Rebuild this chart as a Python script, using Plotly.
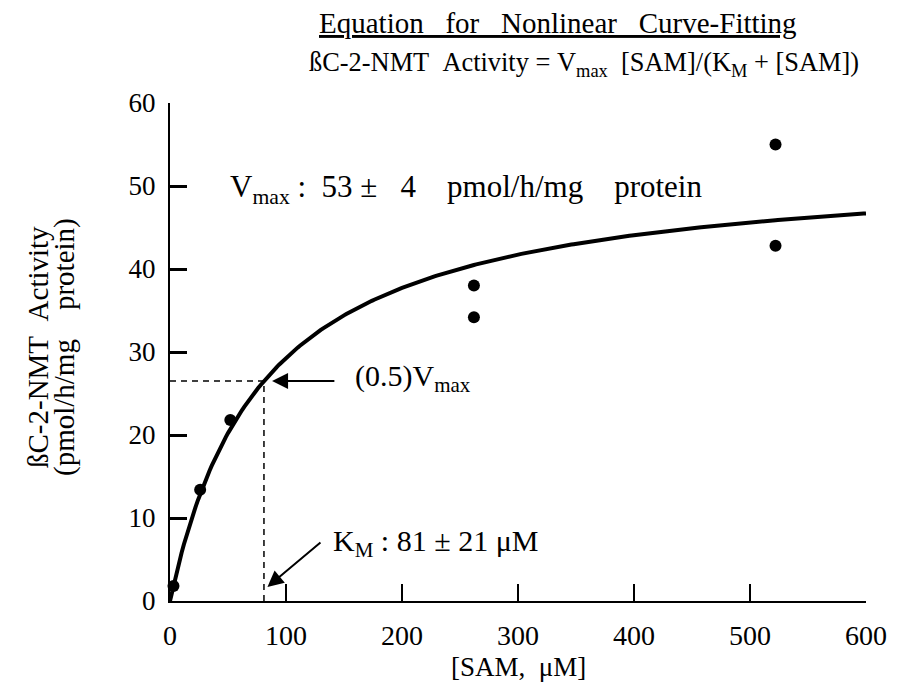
import plotly.graph_objects as go

# Data
sam_um = [3, 26, 52, 262, 262, 522, 522]
activity = [1.8, 13.4, 21.8, 38.0, 34.2, 55.0, 42.8]

# Fitted parameters shown on the chart
VMAX = 53
KM = 81

x_ticks = [0, 100, 200, 300, 400, 500, 600]
y_ticks = [0, 10, 20, 30, 40, 50, 60]

curve_x = [i * 2 for i in range(0, 301)]
curve_y = [VMAX * s / (KM + s) for s in curve_x]

FONT = "Liberation Serif"

fig = go.Figure()

# dashed guide lines
fig.add_trace(go.Scatter(x=[0, KM, KM], y=[VMAX / 2, VMAX / 2, 0], mode="lines",
                         line=dict(color="black", width=1.5, dash="6px,5px"),
                         hoverinfo="skip", showlegend=False, cliponaxis=False))
# fitted curve
fig.add_trace(go.Scatter(x=curve_x, y=curve_y, mode="lines",
                         line=dict(color="black", width=4), showlegend=False,
                         cliponaxis=False))
# measured points
fig.add_trace(go.Scatter(x=sam_um, y=activity, mode="markers",
                         marker=dict(color="black", size=12), showlegend=False,
                         cliponaxis=False))

fig.update_layout(
    width=899, height=692,
    margin=dict(l=170, r=27, t=103, b=91),
    paper_bgcolor="white", plot_bgcolor="white",
    font=dict(family=FONT, color="black", size=26),
    xaxis=dict(range=[0, 600], tickvals=x_ticks, ticks="inside", ticklen=17, tickwidth=2,
               tickcolor="black", showline=True, linecolor="black", linewidth=2,
               showgrid=False, zeroline=False, tickfont=dict(size=28),
               ticklabelstandoff=8),
    yaxis=dict(range=[0, 60], tickvals=y_ticks, ticks="inside", ticklen=17, tickwidth=3,
               tickcolor="black", showline=True, linecolor="black", linewidth=2,
               showgrid=False, zeroline=False, tickfont=dict(size=27),
               ticklabelstandoff=7),
)

NB = "\u00a0"
annotations = [
    dict(text=f"Equation{NB*3}for{NB*3}Nonlinear{NB*3}Curve-Fitting", xref="paper", yref="paper",
         x=0.557, y=1.0, yshift=80, xanchor="center", yanchor="middle", showarrow=False,
         font=dict(size=29, lineposition="under")),
    dict(text=f"ßC-2-NMT{NB}{NB}Activity{NB}={NB}V<sub>max</sub>{NB}{NB}[SAM]/(K<sub>M</sub>{NB}+{NB}[SAM])",
         xref="paper", yref="paper", x=1.0, y=1.0, xshift=-5, yshift=39,
         xanchor="right", yanchor="middle", showarrow=False, font=dict(size=26.4)),
    dict(text=f"V<sub>max</sub>{NB}:{NB}{NB}53{NB}±{NB}{NB}{NB}4{NB}{NB}{NB}{NB}pmol/h/mg{NB}{NB}{NB}{NB}protein",
         x=50, y=49.6, xref="x", yref="y", xanchor="left", yanchor="middle",
         showarrow=False, font=dict(size=31)),
    dict(text="(0.5)V<sub>max</sub>", x=158, y=26.9, xref="x", yref="y", xanchor="left",
         yanchor="middle", showarrow=False, font=dict(size=30)),
    dict(text=f"K<sub>M</sub>{NB}:{NB}81{NB}±{NB}21{NB}μM", x=139, y=7.0, xref="x", yref="y",
         xanchor="left", yanchor="middle", showarrow=False, font=dict(size=30)),
    # arrows
    dict(x=88, y=VMAX / 2, ax=143, ay=VMAX / 2, xref="x", yref="y", axref="x", ayref="y",
         text="", showarrow=True, arrowhead=2, arrowsize=1.6, arrowwidth=2, arrowcolor="black"),
    dict(x=84, y=1.7, ax=131, ay=7.2, xref="x", yref="y", axref="x", ayref="y",
         text="", showarrow=True, arrowhead=2, arrowsize=1.6, arrowwidth=2, arrowcolor="black"),
    dict(text="[SAM,{0}{0}μM]".format(NB), xref="paper", yref="paper", x=0.5, y=0, yshift=-66,
         xanchor="center", yanchor="middle", showarrow=False, font=dict(size=27)),
    dict(text=f"ßC-2-NMT{NB}{NB}Activity", xref="paper", yref="paper",
         x=0, xshift=-132, y=0.51, xanchor="center", yanchor="middle", textangle=-90,
         showarrow=False, font=dict(size=29)),
    dict(text=f"(pmol/h/mg{NB}{NB}{NB}{NB}protein)", xref="paper", yref="paper",
         x=0, xshift=-106, y=0.51, xanchor="center", yanchor="middle", textangle=-90,
         showarrow=False, font=dict(size=29)),
]
fig.update_layout(annotations=annotations)

fig.write_html("out.html")
